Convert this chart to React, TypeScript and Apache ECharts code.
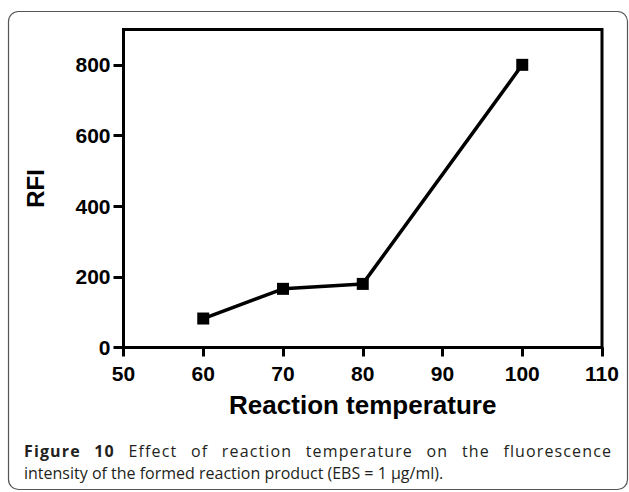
import React, { useEffect, useRef } from "react";
import * as echarts from "echarts";

const temperatures = [60, 70, 80, 100];
const rfiValues = [82, 166, 180, 800];
const yTickValues = [0, 200, 400, 600, 800];
const xTitle = "Reaction temperature";
const yTitle = "RFI";
const captionBold = "Figure 10";
const captionLine1 = "Effect of reaction temperature on the fluorescence";
const captionLine2 = "intensity of the formed reaction product (EBS = 1 μg/ml).";

export default function App() {
  const ref = useRef<HTMLDivElement>(null);
  useEffect(() => {
    if (!ref.current) return;
    const el = ref.current;
    const chart = echarts.init(el, null, { renderer: "svg" });
    const axisFont = "'Liberation Sans', Arial, sans-serif";
    const capFont = "'Open Sans', sans-serif";
    const capSize = 16;
    const lineStart = 24;
    const lineEnd = 611;

    // the journal justifies line 1: half by word spacing, half by letter spacing
    const cv = document.createElement("canvas");
    const ctx = cv.getContext("2d");
    let wB = 68, wS = 4.2, wR = 360;
    if (ctx) {
      ctx.font = "bold " + capSize + "px " + capFont;
      wB = ctx.measureText(captionBold).width;
      ctx.font = capSize + "px " + capFont;
      wS = ctx.measureText(" ").width;
      wR = ctx.measureText(captionLine1).width;
    }
    const extra = Math.max(0, lineEnd - lineStart - (wB + wS + wR));
    const nGaps = captionBold.length + 1 + captionLine1.length - 1;
    const nSpaces = (captionBold + " " + captionLine1).split(" ").length - 1;
    const ls = extra / 2 / nGaps;
    const ws = extra / 2 / nSpaces;
    const restX = lineStart + wB + captionBold.length * ls + ws + wS + ls + ws;

    chart.setOption({
      animation: false,
      backgroundColor: "#fff",
      grid: {
        left: 123.5,
        top: 29.5,
        width: 478.5,
        height: 318,
        show: true,
        borderColor: "#000",
        borderWidth: 3,
        backgroundColor: "transparent",
        containLabel: false,
      },
      xAxis: {
        type: "value",
        min: 50,
        max: 110,
        interval: 10,
        name: xTitle,
        nameLocation: "middle",
        nameGap: 44,
        nameTextStyle: { fontSize: 26, fontWeight: "bold", color: "#000", fontFamily: axisFont },
        axisLine: { show: true, onZero: false, lineStyle: { color: "#000", width: 3 } },
        axisTick: { show: true, length: 9, lineStyle: { color: "#000", width: 3 } },
        axisLabel: { fontSize: 21, fontWeight: "bold", color: "#000", margin: 15, fontFamily: axisFont },
        splitLine: { show: false },
      },
      yAxis: {
        type: "value",
        min: 0,
        max: 900,
        name: yTitle,
        nameLocation: "middle",
        nameRotate: 90,
        nameGap: 76,
        nameTextStyle: { fontSize: 24, fontWeight: "bold", color: "#000", fontFamily: axisFont },
        axisLine: { show: true, onZero: false, lineStyle: { color: "#000", width: 3 } },
        axisTick: { show: true, length: 10, customValues: yTickValues, lineStyle: { color: "#000", width: 3 } },
        axisLabel: {
          fontSize: 21,
          fontWeight: "bold",
          color: "#000",
          margin: 13,
          fontFamily: axisFont,
          customValues: yTickValues,
        },
        splitLine: { show: false },
      },
      graphic: [
        {
          type: "rect",
          z: -10,
          shape: { x: 8.5, y: 11.5, width: 619, height: 478, r: 10 },
          style: { fill: "none", stroke: "#555", lineWidth: 1.2 },
          silent: true,
        },
        {
          type: "text",
          x: lineStart,
          y: 443,
          style: {
            text: captionBold,
            fill: "#231f20",
            font: "bold " + capSize + "px " + capFont,
          },
        },
        {
          type: "text",
          x: restX,
          y: 443,
          style: {
            text: captionLine1,
            fill: "#231f20",
            font: capSize + "px " + capFont,
          },
        },
        {
          type: "text",
          x: lineStart,
          y: 465,
          style: {
            text: captionLine2,
            fill: "#231f20",
            font: capSize + "px " + capFont,
          },
        },
      ],
      series: [
        {
          type: "line",
          data: temperatures.map((t, i) => [t, rfiValues[i]]),
          symbol: "rect",
          symbolSize: 12,
          lineStyle: { color: "#000", width: 3.5 },
          itemStyle: { color: "#000" },
        },
      ],
    });

    const applySpacing = () => {
      el.querySelectorAll("text").forEach((t) => {
        const s = t.textContent;
        if (s === captionBold || s === captionLine1) {
          t.setAttribute("letter-spacing", ls.toFixed(2));
          t.setAttribute("word-spacing", ws.toFixed(2));
        }
      });
    };
    applySpacing();
    chart.on("finished", applySpacing);
    const timer = setTimeout(applySpacing, 0);
    return () => {
      clearTimeout(timer);
      chart.dispose();
    };
  }, []);
  return (
    <div
      ref={ref}
      style={{ position: "absolute", left: 0, top: 0, width: 629, height: 492 }}
    />
  );
}
